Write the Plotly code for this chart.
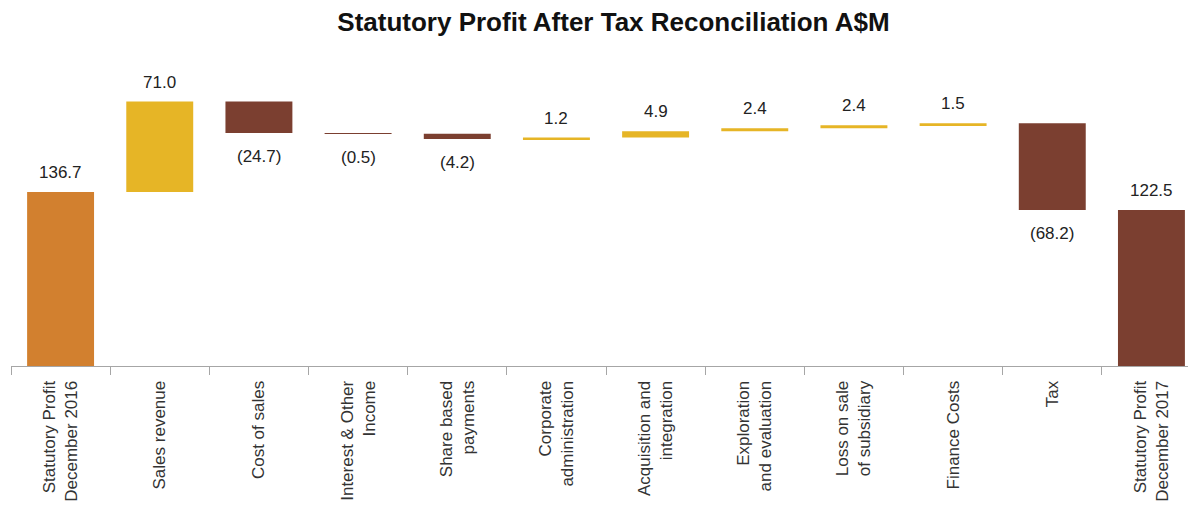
import plotly.graph_objects as go

categories = ["Statutory Profit<br>December 2016", "Sales revenue", "Cost of sales",
              "Interest & Other<br>Income", "Share based<br>payments", "Corporate<br>administration",
              "Acquisition and<br>integration", "Exploration<br>and evaluation", "Loss on sale<br>of subsidiary",
              "Finance Costs", "Tax", "Statutory Profit<br>December 2017"]
values = [136.7, 71.0, -24.7, -0.5, -4.2, 1.2, 4.9, 2.4, 2.4, 1.5, -68.2, 122.5]
measures = ["absolute", "relative", "relative", "relative", "relative", "relative",
            "relative", "relative", "relative", "relative", "relative", "total"]
value_labels = ["136.7", "71.0", "(24.7)", "(0.5)", "(4.2)", "1.2", "4.9", "2.4", "2.4", "1.5", "(68.2)", "122.5"]

ORANGE = "#D2802F"
GOLD = "#E6B526"
BROWN = "#7B3F30"

bases, heights, colors = [], [], []
running = 0.0
for v, m in zip(values, measures):
    if m == "absolute":
        running = v
        b, h, c = 0, v, ORANGE
    elif m == "total":
        b, h, c = 0, running, BROWN
    else:
        start = running
        running = running + v
        b = min(start, running)
        h = abs(v)
        c = GOLD if v >= 0 else BROWN
    bases.append(b)
    heights.append(h)
    colors.append(c)

fig = go.Figure()
fig.add_trace(go.Bar(x=categories, y=heights, base=bases, width=0.675,
                     marker=dict(color=colors, line=dict(width=0)),
                     hoverinfo="skip", showlegend=False))

for i, (cat, v, m, lab) in enumerate(zip(categories, values, measures, value_labels)):
    b, h = bases[i], heights[i]
    if m != "relative" or v >= 0:
        fig.add_annotation(x=cat, y=b + h, text=lab, showarrow=False,
                           yanchor="bottom", yshift=8,
                           font=dict(family="Liberation Sans, Arial", size=17, color="#222222"))
    else:
        fig.add_annotation(x=cat, y=b, text=lab, showarrow=False,
                           yanchor="top", yshift=-12,
                           font=dict(family="Liberation Sans, Arial", size=17, color="#222222"))

fig.update_layout(
    width=1196, height=508,
    margin=dict(l=3, r=0, t=52, b=150),
    paper_bgcolor="white", plot_bgcolor="white",
    title=dict(text="<b>Statutory Profit After Tax Reconciliation A$M</b>",
               x=604/1196, xanchor="center", xref="paper", y=1.0, yref="container", yanchor="top",
               pad=dict(t=5),
               font=dict(family="Liberation Sans, Arial", size=26, color="#111111")),
    xaxis=dict(type="category", range=[-0.5, 11.53], showline=True, linecolor="#A6A6A6", linewidth=1,
               ticks="outside", tickson="boundaries", ticklen=8, tickcolor="#A6A6A6",
               tickangle=-90, showgrid=False, automargin=False, ticklabelstandoff=7,
               tickfont=dict(family="Liberation Sans, Arial", size=17, color="#333333")),
    yaxis=dict(range=[0, 240.4], visible=False, showgrid=False, zeroline=False),
    bargap=0.3,
)

fig.write_html("out.html")
